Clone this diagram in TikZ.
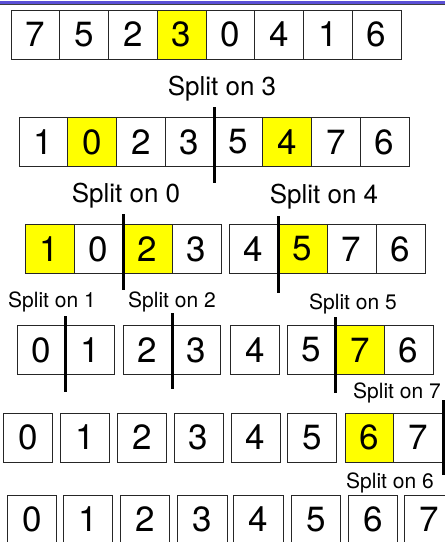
\documentclass[tikz,border=0pt]{standalone}
\usepackage{fontspec}
\setmainfont{TeX Gyre Heros}
\tikzset{
  cell/.style={draw=black!85,line width=0.9pt,minimum height=49pt,inner sep=0pt,
    font=\fontsize{35}{40}\selectfont},
  bigsplit/.style={anchor=base,font=\fontsize{26}{30}\selectfont},
  smallsplit/.style={anchor=base,font=\fontsize{21}{25}\selectfont},
  splitbar/.style={line width=3pt}
}
\begin{document}
\begin{tikzpicture}[x=1pt,y=-1pt]
  \definecolor{slideblue}{HTML}{5B50D6}
  \definecolor{pivot}{HTML}{FFFF00}
  \path[use as bounding box] (0,0) rectangle (445,542);
  \fill[slideblue] (0,1) rectangle (445,4);
  \draw[black!75,line width=0.8pt] (0,4.8) -- (445,4.8);
  % row 1
  \foreach \x/\v/\c [count=\i] in {35.4/7/white,84.1/5/white,132.9/2/white,181.6/3/pivot,
      230.4/0/white,279.1/4/white,327.9/1/white,376.6/6/white}
    \node[cell,minimum width=48.75pt,fill=\c] (a\i) at (\x,34.5) {\v};
  \node[bigsplit] (s3) at (222,95) {Split on 3};
  % row 2
  \foreach \x/\v/\c [count=\i] in {43.4/1/white,92.1/0/pivot,140.9/2/white,189.6/3/white,
      238.4/5/white,287.1/4/pivot,335.9/7/white,384.6/6/white}
    \node[cell,minimum width=48.75pt,fill=\c] (b\i) at (\x,142) {\v};
  \draw[splitbar] (214,107) -- (214,183);
  \node[bigsplit] (s0) at (126,202) {Split on 0};
  \node[bigsplit] (s4) at (324,203) {Split on 4};
  % row 3
  \foreach \x/\v/\c [count=\i] in {49.5/1/pivot,98.5/0/white,147.5/2/pivot,196.5/3/white,
      253.5/4/white,302.5/5/pivot,351.5/7/white,400.5/6/white}
    \node[cell,minimum width=49pt,fill=\c] (c\i) at (\x,249) {\v};
  \draw[splitbar] (123,214) -- (123,290);
  \draw[splitbar] (278,216) -- (278,293);
  \node[smallsplit] (s1) at (52,307) {Split on 1};
  \node[smallsplit] (s2) at (172,307) {Split on 2};
  \node[smallsplit] (s5) at (353,309) {Split on 5};
  % row 4
  \foreach \x/\v/\c [count=\i] in {41.25/0/white,89.75/1/white,147.5/2/white,196.5/3/white,
      255/4/white,311.4/5/white,360/7/pivot,408.7/6/white}
    \node[cell,minimum width=48.6pt,fill=\c] (d\i) at (\x,350) {\v};
  \draw[splitbar] (65.5,316) -- (65.5,392);
  \draw[splitbar] (172,313) -- (172,389);
  \draw[splitbar] (335.7,317) -- (335.7,393);
  \node[smallsplit] (s7) at (397,398) {Split on 7};
  % row 5
  \foreach \x/\v/\c [count=\i] in {28/0/white,85/1/white,142/2/white,198.5/3/white,
      255.5/4/white,312/5/white,369.5/6/pivot,418/7/white}
    \node[cell,minimum width=49pt,fill=\c] (e\i) at (\x,437.5) {\v};
  \draw[splitbar] (443.5,400) -- (443.5,475);
  \node[smallsplit] (s6) at (390,488) {Split on 6};
  % row 6
  \foreach \x/\v [count=\i] in {32/0,88/1,145/2,202.5/3,258.5/4,316/5,373/6,429.5/7}
    \node[cell,minimum width=49.5pt] (f\i) at (\x,519.5) {\v};
\end{tikzpicture}
\end{document}
